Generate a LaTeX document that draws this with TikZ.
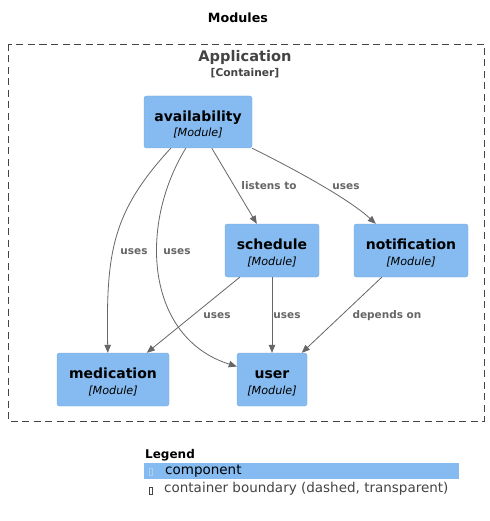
\documentclass[tikz,border=0pt]{standalone}
\usepackage{fontspec}
\setmainfont{DejaVu Sans}
\usetikzlibrary{arrows.meta}
\definecolor{compblue}{HTML}{85BBF0}
\definecolor{compborder}{HTML}{78A8D8}
\definecolor{edgegray}{HTML}{666666}
\definecolor{boundgray}{HTML}{444444}
\begin{document}
\begin{tikzpicture}[x=1pt,y=-1pt,
  comp/.style={fill=compblue, draw=compborder, line width=0.4pt, rounded corners=2.5pt, align=center, inner sep=0pt},
  rel/.style={draw=edgegray, line width=0.8pt, -{Triangle[length=8pt,width=6.5pt]}},
  rellabel/.style={text=edgegray, font=\fontsize{10.5}{12}\selectfont\bfseries, inner sep=0pt},
  boundary/.style={draw=boundgray, line width=0.8pt, dash pattern=on 7pt off 4.5pt},
  legendtext/.style={font=\fontsize{13.5}{15}\selectfont, inner sep=0pt, anchor=west},
  glyph/.style={draw=#1, line width=0.5pt, minimum width=3pt, minimum height=7pt, inner sep=0pt}
]
\newcommand{\compname}[1]{{\fontsize{14}{16}\selectfont\bfseries\rule{0pt}{15.5pt}#1}\\[3.5pt]{\fontsize{11.2}{13}\selectfont\itshape [Module]}}
\useasboundingbox (0,0) rectangle (489,521);
\fill[white] (0,0) rectangle (489,521);

% title
\node[font=\fontsize{12.7}{14}\selectfont\bfseries, inner sep=0pt] (title) at (238,18) {Modules};

% container boundary
\draw[boundary] (8,44) rectangle (484,421);
\node[font=\fontsize{14.6}{16}\selectfont\bfseries, text=boundgray, inner sep=0pt] (apptitle) at (245,57) {Application};
\node[font=\fontsize{10.7}{12}\selectfont\bfseries, text=boundgray, inner sep=0pt] (appsub) at (245,73) {[Container]};

% components
\node[comp, minimum width=108pt, minimum height=52pt] (avail) at (198,122) {\compname{availability}};
\node[comp, minimum width=94pt, minimum height=53pt] (sched) at (272,250.5) {\compname{schedule}};
\node[comp, minimum width=114pt, minimum height=53pt] (notif) at (411,250.5) {\compname{notification}};
\node[comp, minimum width=112pt, minimum height=53pt] (med) at (113,379.5) {\compname{medication}};
\node[comp, minimum width=70pt, minimum height=53pt] (user) at (272,379.5) {\compname{user}};

% relations
\draw[rel] ([xshift=27pt]avail.south west) .. controls (112,212) and (106,252) .. ([xshift=51pt]med.north west);
\draw[rel] ([xshift=42pt]avail.south west) .. controls (138,226) and (146,338) .. ([yshift=13pt]user.west);
\draw[rel] ([xshift=68pt]avail.south west) -- ([xshift=32pt]sched.north west);
\draw[rel] (avail.south east) .. controls (300,172) and (350,200) .. ([xshift=22pt]notif.north west);
\draw[rel] ([xshift=15pt]sched.south west) -- ([xshift=90pt]med.north west);
\draw[rel] (sched.south) -- (user.north);
\draw[rel] ([xshift=28pt]notif.south west) -- ([xshift=65pt]user.north west);

% relation labels
\node[rellabel] (l1) at (134,252) {uses};
\node[rellabel] (l2) at (177,252) {uses};
\node[rellabel] (l3) at (269,186) {listens to};
\node[rellabel] (l4) at (346,187) {uses};
\node[rellabel] (l5) at (217,316) {uses};
\node[rellabel] (l6) at (287,316) {uses};
\node[rellabel] (l7) at (387,316) {depends on};

% legend
\node[font=\fontsize{12}{14}\selectfont\bfseries, inner sep=0pt, anchor=west] (legend) at (145,455) {Legend};
\fill[compblue] (144,463) rectangle (459,479);
\node[glyph=compblue!70!white] (g1) at (151,472) {};
\node[legendtext] (lc) at (165,471) {component};
\node[glyph=boundgray] (g2) at (151,491) {};
\node[legendtext, text=boundgray] (lb) at (164,489) {container boundary (dashed, transparent)};
\end{tikzpicture}
\end{document}
